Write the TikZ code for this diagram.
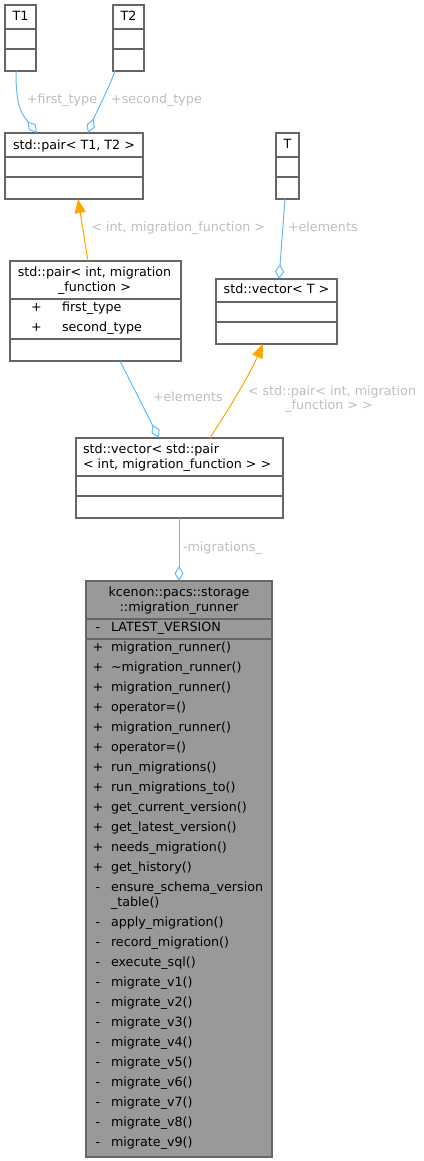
\documentclass[tikz,border=0pt]{standalone}
\usepackage{fontspec}
\setmainfont{DejaVu Sans}
\usetikzlibrary{arrows.meta,calc}
\definecolor{edgeblue}{HTML}{63B8FF}
\definecolor{edgeorange}{HTML}{FFA500}
\definecolor{labgrey}{HTML}{BEBEBE}
\definecolor{boxline}{HTML}{666666}
\definecolor{boxfill}{HTML}{999999}
\begin{document}
\begin{tikzpicture}[x=1pt,y=-1pt,
 classbox/.style={draw=boxline, line width=1.2pt, fill=white, inner sep=0pt, outer sep=0pt, anchor=north west},
 sepline/.style={draw=boxline, line width=1.2pt},
 txt/.style={font=\fontsize{12.7}{15}\selectfont, inner sep=0pt, outer sep=0pt, text height=9.5pt, text depth=2.5pt},
 lab/.style={txt, text=labgrey},
 member/.style={txt, anchor=west},
 vis/.style={txt, anchor=center},
 assoc/.style={draw=edgeblue, line width=1pt, -{Diamond[open, length=15pt, width=9pt]}},
 inherit/.style={draw=edgeorange, line width=1pt, -{Triangle[length=14pt, width=11pt]}},
]
\useasboundingbox (0,0) rectangle (423,1161);

% ---- class boxes ----
\node[classbox, minimum width=31pt, minimum height=66pt] (t1) at (5,5) {};
\node[classbox, minimum width=31pt, minimum height=66pt] (t2) at (113,5) {};
\node[classbox, minimum width=138pt, minimum height=66pt] (pairT) at (5,133) {};
\node[classbox, minimum width=23pt, minimum height=66pt] (tT) at (276,133) {};
\node[classbox, minimum width=171pt, minimum height=100pt] (pairI) at (10,261) {};
\node[classbox, minimum width=121pt, minimum height=65pt] (vecT) at (216,279) {};
\node[classbox, minimum width=207pt, minimum height=80pt] (vecP) at (76,438) {};
\node[classbox, fill=boxfill, minimum width=186pt, minimum height=576pt] (runner) at (86,581) {};

% ---- separators ----
\foreach \b/\a/\c in {t1/24/44, t2/24/44, pairT/24/44, tT/24/44, pairI/38/78, vecT/23/43, vecP/38/58, runner/38/58}{
  \draw[sepline] ($(\b.north west)+(0,\a)$) -- ($(\b.north east)+(0,\a)$);
  \draw[sepline] ($(\b.north west)+(0,\c)$) -- ($(\b.north east)+(0,\c)$);
}

% ---- titles ----
\node[vis] (t1name) at ($(t1.north)+(0,12)$) {T1};
\node[vis] (t2name) at ($(t2.north)+(0,12)$) {T2};
\node[vis] (pairTname) at ($(pairT.north)+(0,13)$) {std::pair< T1, T2 >};
\node[vis] (tTname) at ($(tT.north)+(0,12)$) {T};
\node[vis] (pairIname1) at ($(pairI.north)+(-1,12)$) {std::pair< int, migration};
\node[vis] (pairIname2) at ($(pairI.north)+(-1,27)$) {\_function >};
\node[member] (pairIs1) at ($(pairI.north west)+(21,47)$) {+};
\node[member] (pairIa1) at ($(pairI.north west)+(52,47)$) {first\_type};
\node[member] (pairIs2) at ($(pairI.north west)+(21,67)$) {+};
\node[member] (pairIa2) at ($(pairI.north west)+(52,67)$) {second\_type};
\node[vis] (vecTname) at ($(vecT.north)+(0,11)$) {std::vector< T >};
\node[member] (vecPname1) at ($(vecP.north west)+(7,12)$) {std::vector< std::pair};
\node[member] (vecPname2) at ($(vecP.north west)+(7,26.5)$) {< int, migration\_function > >};
\node[vis] (runname1) at ($(runner.north)+(0,12)$) {kcenon::pacs::storage};
\node[vis] (runname2) at ($(runner.north)+(0,27)$) {::migration\_runner};

% ---- runner members ----
\node[vis] (attrsign) at ($(runner.north west)+(12,47)$) {-};
\node[member] (attr) at ($(runner.north west)+(25,47)$) {LATEST\_VERSION};
\foreach \t [count=\i from 0] in {migration\_runner(), \textasciitilde migration\_runner(), migration\_runner(), operator=(), migration\_runner(), operator=(), run\_migrations(), run\_migrations\_to(), get\_current\_version(), get\_latest\_version(), needs\_migration(), get\_history()}{
  \node[vis] (ps\i) at ($(runner.north west)+(12,67+20*\i)$) {+};
  \node[member] (pm\i) at ($(runner.north west)+(25,67+20*\i)$) {\t};
}
\node[vis] (es) at ($(runner.north west)+(12,307)$) {-};
\node[member] (em1) at ($(runner.north west)+(25,307)$) {ensure\_schema\_version};
\node[member] (em2) at ($(runner.north west)+(25,322)$) {\_table()};
\foreach \t [count=\i from 0] in {apply\_migration(), record\_migration(), execute\_sql(), migrate\_v1(), migrate\_v2(), migrate\_v3(), migrate\_v4(), migrate\_v5(), migrate\_v6(), migrate\_v7(), migrate\_v8(), migrate\_v9()}{
  \node[vis] (qs\i) at ($(runner.north west)+(12,342+20*\i)$) {-};
  \node[member] (qm\i) at ($(runner.north west)+(25,342+20*\i)$) {\t};
}

% ---- connectors ----
\draw[assoc] ($(t1.south west)+(11,0)$) .. controls ($(t1.south west)+(11,30)$) and ($(t1.south west)+(14,40)$) .. ($(pairT.north west)+(32,0)$);
\draw[assoc] ($(t2.south west)+(2,0)$) .. controls ($(t2.south west)+(-5,19)$) and ($(t2.south west)+(-18,44)$) .. ($(pairT.north west)+(83,0)$);
\draw[inherit] ($(pairI.north west)+(78,0)$) -- ($(pairT.south west)+(73,0)$);
\draw[assoc] ($(tT.south west)+(9,0)$) -- ($(vecT.north west)+(63,0)$);
\draw[assoc] ($(pairI.south west)+(110,0)$) -- ($(vecP.north west)+(83,0)$);
\draw[inherit] ($(vecP.north west)+(134,0)$) .. controls ($(vecP.north west)+(152,-28)$) and ($(vecP.north west)+(172,-60)$) .. ($(vecT.south west)+(47,0)$);
\draw[assoc] ($(vecP.south west)+(103,0)$) -- ($(runner.north west)+(93,0)$);

% ---- connector labels ----
\node[lab] (lfirst) at (62,100) {+first\_type};
\node[lab] (lsecond) at (156.5,100) {+second\_type};
\node[lab, anchor=east] (lint) at (265,228) {< int, migration\_function >};
\node[lab, anchor=west] (lelem1) at (288,228) {+elements};
\node[lab, anchor=west] (lelem2) at (153,398) {+elements};
\node[lab] (lvec1) at (332,392) {< std::pair< int, migration};
\node[lab] (lvec2) at (329,406) {\_function > >};
\node[lab, anchor=west] (lmig) at (183,548) {-migrations\_};
\end{tikzpicture}
\end{document}
